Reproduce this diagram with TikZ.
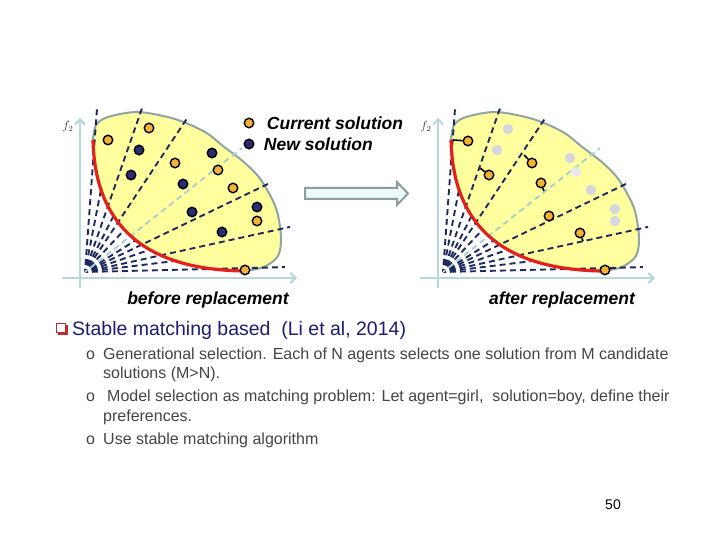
\documentclass[tikz,border=0pt]{standalone}
\usepackage{fontspec}
\setmainfont{Liberation Sans}
\usepackage{tikz}
\usetikzlibrary{positioning,arrows.meta}
\usepackage{xcolor}
\definecolor{yellowfill}{HTML}{FFFF9E}
\definecolor{edgegray}{HTML}{8EA5A0}
\definecolor{frontred}{HTML}{E3201B}
\definecolor{raynavy}{HTML}{1E2A5E}
\definecolor{raylight}{HTML}{A9CFCF}
\definecolor{axisblue}{HTML}{B7D7DD}
\definecolor{dotorange}{HTML}{F2B233}
\definecolor{dotnavy}{HTML}{2B2D6E}
\definecolor{dotgray}{HTML}{D6D6DE}
\definecolor{arrowedge}{HTML}{8C9F9C}
\definecolor{arrowfill}{HTML}{EDF9FB}
\definecolor{titlenavy}{HTML}{1C1C70}
\definecolor{bodygray}{HTML}{444444}
\definecolor{bulletred}{HTML}{C0282A}

\begin{document}
\begin{tikzpicture}[
    x=1pt, y=-1pt,
    cursol/.style={circle, draw=black, line width=1.4pt, fill=dotorange, minimum size=9.5pt, inner sep=0pt},
    newsol/.style={cursol, fill=dotnavy},
    oldsol/.style={circle, fill=dotgray, minimum size=10.5pt, inner sep=0pt},
    ray/.style={draw=raynavy, line width=1.9pt, dash pattern=on 6pt off 4pt, dash phase=3pt},
    midray/.style={ray, draw=raylight},
    axis/.style={draw=axisblue, line width=2.2pt, -{Straight Barb[length=5pt,width=10pt]}},
    front/.style={draw=frontred, line width=3.2pt},
    blobedge/.style={draw=edgegray, line width=2pt},
    stick/.style={draw=black, line width=1.6pt},
    bigarrow/.style={draw=arrowedge, fill=arrowfill, line width=2pt},
    legendtext/.style={font=\fontsize{17.5}{20}\selectfont\bfseries\itshape, anchor=west},
    caption/.style={font=\fontsize{17.5}{20}\selectfont\bfseries\itshape, anchor=base},
    bodytext/.style={font=\fontsize{16}{19}\selectfont, text=bodygray, anchor=base west, inner sep=0pt}
]

    \useasboundingbox (0,0) rectangle (720,540);

    % Both panels share the same objective space
    \foreach \dx in {0,358} {
    \begin{scope}[xshift=\dx pt]
        \draw[axis] (80,288) -- (80,118);
        \draw[axis] (62,278) -- (297,278);
        \node[font=\fontsize{12}{12}\selectfont, text=black!80] at (68,127) {$f_{2}$};

        \fill[yellowfill] plot[smooth] coordinates {(93,140) (96,125) (108,117) (138,112) (175,119) (205,132) (223,146) (245,163) (261,180) (276,208) (281,237) (278,256) (264,267) (245,271)}
            .. controls (150,270) and (95,230) .. (93,140) -- cycle;
        \draw[blobedge] plot[smooth] coordinates {(93,140) (96,125) (108,117) (138,112) (175,119) (205,132) (223,146) (245,163) (261,180) (276,208) (281,237) (278,256) (264,267) (245,271)};

        % Weight vectors from the ideal point
        \coordinate (o) at (85,272);
        \foreach \a/\r in {85.8/165, 79/85, 70.8/177, 63/63, 56.4/186, 47/58, 32/60, 25.7/207, 19/69, 12.4/210, 7/97, 1.4/200}
            \draw[ray] (o) -- ++(-\a:\r);
        \draw[midray] (o) -- ++(-38.3:200);

        \draw[front] (93,140) .. controls (95,230) and (150,270) .. (245,271);
    \end{scope}
    }

    % Before replacement
    \node[cursol] (c1) at (108,140) {};
    \node[cursol] (c2) at (149,128) {};
    \node[cursol] (c3) at (175,163) {};
    \node[cursol] (c4) at (218,170) {};
    \node[cursol] (c5) at (233,188) {};
    \node[cursol] (c6) at (257,221) {};
    \node[cursol] (c7) at (245,270) {};
    \node[newsol] (n1) at (139,150) {};
    \node[newsol] (n2) at (212,153) {};
    \node[newsol] (n3) at (131,175) {};
    \node[newsol] (n4) at (183,184) {};
    \node[newsol] (n5) at (257,207) {};
    \node[newsol] (n6) at (192,212) {};
    \node[newsol] (n7) at (222,232) {};

    % Legend
    \node[cursol] (legc) at (249,123) {};
    \node[newsol] (legn) at (249,144) {};
    \node[legendtext, right=9pt of legc] {Current solution};
    \node[legendtext, right=6pt of legn] {New solution};

    % After replacement
    \node[oldsol] (g1) at (508,129) {};
    \node[oldsol] (g2) at (497,150) {};
    \node[oldsol] (g3) at (570,158) {};
    \node[oldsol, fill=dotgray!55] (g4) at (576,172) {};
    \node[oldsol] (g5) at (591,190) {};
    \node[oldsol] (g6) at (615,209) {};
    \node[oldsol] (g7) at (615,221) {};

    \node[cursol] (s1) at (468,141) {};
    \node[cursol] (s2) at (489,175) {};
    \node[cursol] (s3) at (532,163) {};
    \node[cursol] (s4) at (541,183) {};
    \node[cursol] (s5) at (549,216) {};
    \node[cursol] (s6) at (580,233) {};
    \node[cursol] (s7) at (605,270) {};

    \coordinate (t1) at (453,140);
    \coordinate (t2) at (480,168);
    \coordinate (t3) at (524,155);
    \coordinate (t4) at (544,191);
    \coordinate (t6) at (583,241);
    \draw[stick] (t1) -- (s1);
    \draw[stick] (t2) -- (s2);
    \draw[stick] (t3) -- (s3);
    \draw[stick] (t4) -- (s4);
    \draw[stick] (t6) -- (s6);

    % Block arrow between the panels
    \draw[bigarrow] (305,188) -- (397,188) -- (397,182) -- (408,193.5) -- (397,205) -- (397,199) -- (305,199) -- cycle;

    \node[caption] (capb) at (208,304) {before replacement};
    \node[caption] (capa) at (562,304) {after replacement};

    % Bullet list
    \fill[bulletred] (57.5,324.5) rectangle (67.5,334.5);
    \node[draw=bulletred, fill=white, line width=1.2pt, minimum size=9pt, inner sep=0pt] (sq) at (61,328) {};
    \node[font=\fontsize{19.5}{22}\selectfont, text=titlenavy, anchor=base west, inner sep=0pt] (title) at (72,335) {Stable matching based\ \ (Li et al, 2014)};

    \node[bodytext] (o1) at (86,359) {o};
    \node[bodytext] (l1) at (103,359) {Generational selection. Each of N agents selects one solution from M candidate};
    \node[bodytext] (l2) at (103,378) {solutions (M>N).};
    \node[bodytext] (o2) at (86,401) {o};
    \node[bodytext] (l3) at (107,401) {Model selection as matching problem: Let agent=girl,\ \ solution=boy, define their};
    \node[bodytext] (l4) at (103,421) {preferences.};
    \node[bodytext] (o3) at (86,444) {o};
    \node[bodytext] (l5) at (103,444) {Use stable matching algorithm};

    \node[font=\fontsize{14}{16}\selectfont, anchor=base] (page) at (613,509) {50};

\end{tikzpicture}
\end{document}
